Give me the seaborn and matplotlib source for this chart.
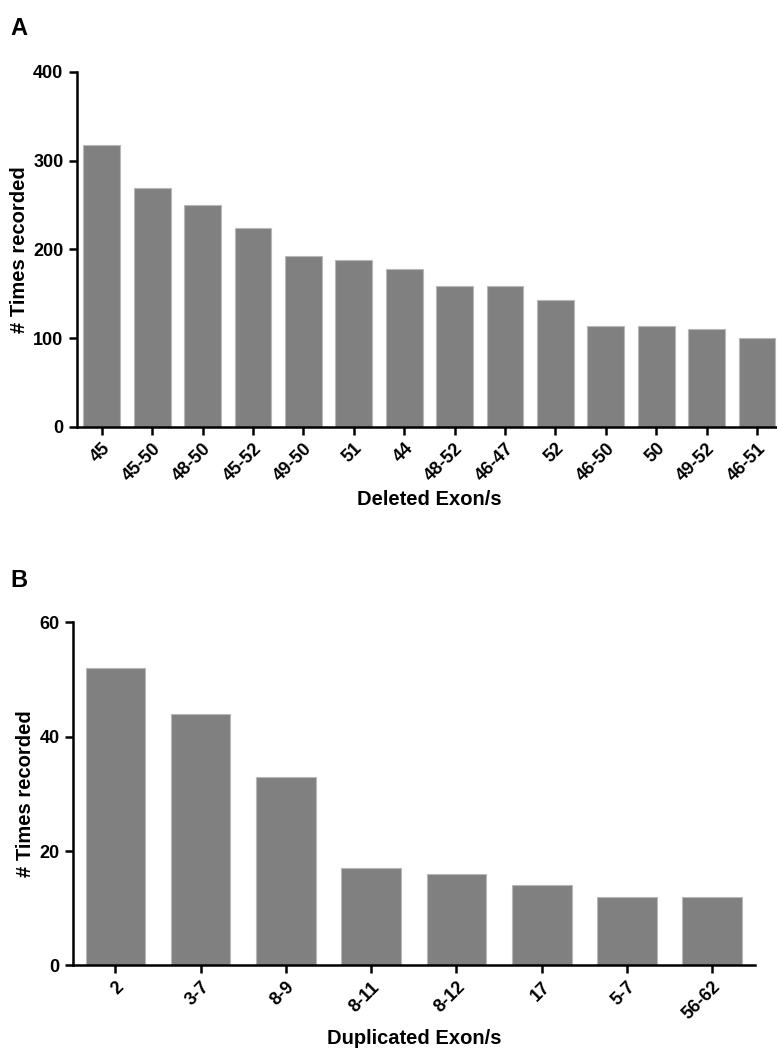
import matplotlib
matplotlib.use("Agg")
import matplotlib.pyplot as plt
import pandas as pd
import seaborn as sns

# Panel A: deleted exons
deleted_exons = ["45", "45-50", "48-50", "45-52", "49-50", "51", "44",
                 "48-52", "46-47", "52", "46-50", "50", "49-52", "46-51"]
deleted_counts = [318, 269, 250, 224, 193, 188, 178, 159, 159, 143, 113, 113, 110, 100]

# Panel B: duplicated exons
duplicated_exons = ["2", "3-7", "8-9", "8-11", "8-12", "17", "5-7", "56-62"]
duplicated_counts = [52, 44, 33, 17, 16, 14, 12, 12]

BAR_COLOR = "#808080"
EDGE_COLOR = "#b8b8b8"

sns.set_style("ticks")
plt.rcParams["font.family"] = ["Liberation Sans", "DejaVu Sans"]
plt.rcParams["font.weight"] = "bold"
plt.rcParams["text.color"] = "black"
plt.rcParams["axes.labelcolor"] = "black"
plt.rcParams["xtick.color"] = "black"
plt.rcParams["ytick.color"] = "black"


def draw_panel(ax, labels, values, ymax, ystep, xlabel, bar_width):
    df = pd.DataFrame({"exon": labels, "count": values})
    sns.barplot(data=df, x="exon", y="count", color=BAR_COLOR,
                edgecolor=EDGE_COLOR, linewidth=0.8, width=bar_width,
                saturation=1, ax=ax)
    ax.set_xlim(-0.5, len(labels) - 0.5)
    ax.set_ylim(0, ymax)
    ax.set_yticks(range(0, ymax + 1, ystep))
    for side in ["top", "right"]:
        ax.spines[side].set_visible(False)
    for side in ["left", "bottom"]:
        ax.spines[side].set_linewidth(1.8)
        ax.spines[side].set_color("black")
    ax.tick_params(axis="both", direction="out", length=6, width=1.8,
                   labelsize=13, color="black", labelcolor="black")
    plt.setp(ax.get_xticklabels(), rotation=45, ha="right",
             rotation_mode="anchor", fontweight="bold")
    plt.setp(ax.get_yticklabels(), fontweight="bold")
    ax.set_ylabel("# Times recorded", fontsize=14.5, fontweight="bold", labelpad=3)
    ax.set_xlabel(xlabel, fontsize=14.5, fontweight="bold", labelpad=4)


fig = plt.figure(figsize=(7.77, 10.51), dpi=100)

ax_a = fig.add_axes([0.0987, 0.594, 0.908, 0.3375])
draw_panel(ax_a, deleted_exons, deleted_counts, 400, 100, "Deleted Exon/s", 0.73)

ax_b = fig.add_axes([0.0936, 0.0814, 0.878, 0.3265])
draw_panel(ax_b, duplicated_exons, duplicated_counts, 60, 20, "Duplicated Exon/s", 0.70)

fig.text(0.013, 0.973, "A", fontsize=17, fontweight="bold", va="center")
fig.text(0.013, 0.448, "B", fontsize=17, fontweight="bold", va="center")

fig.savefig("out.png", dpi=100, facecolor="white")
plt.close(fig)
